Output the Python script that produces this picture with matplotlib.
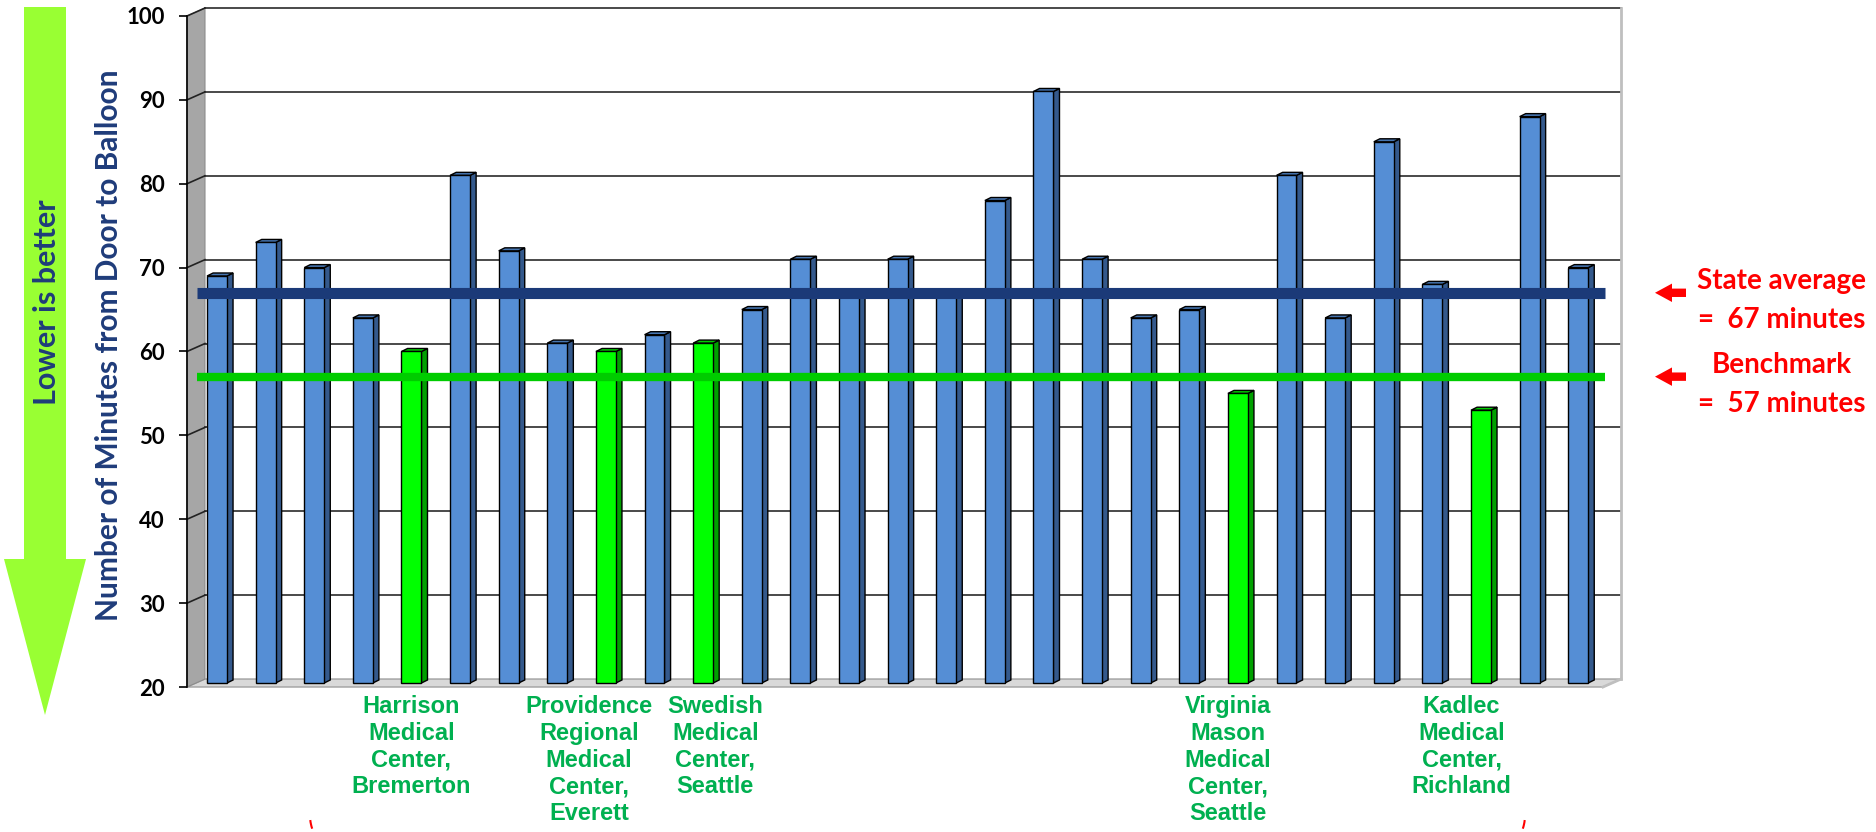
import matplotlib.pyplot as plt
from matplotlib.patches import Polygon, Arc
from matplotlib.transforms import blended_transform_factory
import numpy as np

# door-to-balloon minutes per hospital
minutes = [69, 73, 70, 64, 60, 81, 72, 61, 60, 62, 61, 65, 71, 67, 71,
           67, 78, 91, 71, 64, 65, 55, 81, 64, 85, 68, 53, 88, 70]
highlight = [4, 8, 10, 21, 26]
hosp_names = ["Harrison\nMedical\nCenter,\nBremerton",
              "Providence\nRegional\nMedical\nCenter,\nEverett",
              "Swedish\nMedical\nCenter,\nSeattle",
              "Virginia\nMason\nMedical\nCenter,\nSeattle",
              "Kadlec\nMedical\nCenter,\nRichland"]
name_shift = [0.0, -0.35, 0.25, -0.2, -0.4]
state_avg = 67
benchmark = 57
yticks = [20, 30, 40, 50, 60, 70, 80, 90, 100]

W, H = 1876, 832
fig = plt.figure(figsize=(W / 100, H / 100), dpi=100)
ax = fig.add_axes([187 / W, 1 - 687 / H, (1603 - 187) / W, (687 - 16) / H])

n = len(minutes)
x = np.arange(n)
x0, x1 = -0.617, n - 1 + 0.51
y0, y1 = 20, 100
ax.set_xlim(x0, x1)
ax.set_ylim(y0, y1)

# 3d box: depth offset of back wall in data units
dxw, dyw = 0.37, 0.95

ax.add_patch(Polygon([(x0, y0), (x1, y0), (x1 + dxw, y0 + dyw), (x0 + dxw, y0 + dyw)],
                     closed=True, fc='#D9D9D9', ec='#A0A0A0', lw=1, clip_on=False, zorder=1))
ax.add_patch(Polygon([(x0, y0), (x0, y1), (x0 + dxw, y1 + dyw), (x0 + dxw, y0 + dyw)],
                     closed=True, fc='#A6A6A6', ec='#8C8C8C', lw=0.8, clip_on=False, zorder=1))
for v in yticks[1:]:
    ax.plot([x0 + dxw, x1 + dxw], [v + dyw, v + dyw], color='#3A3A3A', lw=1.3,
            clip_on=False, zorder=1.5)
    ax.plot([x0, x0 + dxw], [v, v + dyw], color='#222222', lw=1.2, clip_on=False, zorder=1.5)
ax.plot([x1 + dxw, x1 + dxw], [y0 + dyw, y1 + dyw], color='#BFBFBF', lw=2, clip_on=False, zorder=1.5)
ax.plot([x1, x1 + dxw], [y0, y0 + dyw], color='#BFBFBF', lw=2, clip_on=False, zorder=1.5)

# bars with side face and top cap
bw = 0.41
sd, sdy = 0.125, 0.36
base = y0 + dyw / 2
cols = ['#00FF00' if i in highlight else '#558ED5' for i in range(n)]
side_cols = ['#00A000' if i in highlight else '#34598C' for i in range(n)]
top_cols = ['#00CC00' if i in highlight else '#4675B0' for i in range(n)]
ax.bar(x, [m - base for m in minutes], bottom=base, width=bw, color=cols,
       edgecolor='black', linewidth=1, zorder=3)
for i, m in enumerate(minutes):
    r = x[i] + bw / 2
    l = x[i] - bw / 2
    ax.add_patch(Polygon([(r, base), (r, m), (r + sd, m + sdy), (r + sd, base + sdy)],
                         closed=True, fc=side_cols[i], ec='black', lw=1, zorder=2.9))
    ax.add_patch(Polygon([(l, m), (r, m), (r + sd, m + sdy), (l + sd, m + sdy)],
                         closed=True, fc=top_cols[i], ec='black', lw=1, zorder=2.9))

# reference lines
ax.plot([x0 + 0.2, x1 + 0.04], [state_avg, state_avg], color='#1B3A78', lw=8,
        solid_capstyle='butt', clip_on=False, zorder=4)
ax.plot([x0 + 0.2, x1 + 0.04], [benchmark, benchmark], color='#00CC00', lw=6,
        solid_capstyle='butt', clip_on=False, zorder=4)

# axis styling
for s in ['top', 'right', 'bottom']:
    ax.spines[s].set_visible(False)
ax.spines['left'].set_color('black')
ax.spines['left'].set_linewidth(1.2)
ax.set_xticks([])
ax.set_yticks(yticks)
ax.tick_params(axis='y', length=6, width=1.2, pad=10, labelsize=16)
for t in ax.get_yticklabels():
    t.set_fontfamily('Lato')
    t.set_fontweight('bold')
ax.set_ylabel('Number of Minutes from Door to Balloon', fontsize=21.5, family='Lato',
              fontweight='bold', color='#1F3C7A')
ax.yaxis.set_label_coords(-0.045, 0.51)

# hospital names under highlighted bars
for k, i in enumerate(highlight):
    ax.text(x[i] + name_shift[k], y0 - 1.0, hosp_names[k], ha='center', va='top',
            fontsize=17, family='Liberation Sans', fontweight='bold', color='#00B050',
            linespacing=1.2, clip_on=False)

# big green arrow on the left
arrow = Polygon([(24 / W, 1 - 7 / H), (66 / W, 1 - 7 / H), (66 / W, 1 - 559 / H),
                 (86 / W, 1 - 559 / H), (45 / W, 1 - 715 / H), (4 / W, 1 - 559 / H),
                 (24 / W, 1 - 559 / H)], closed=True, fc='#99FF33', ec='none',
                transform=fig.transFigure)
fig.add_artist(arrow)
fig.text(47 / W, 1 - 302 / H, 'Lower is better', rotation=90, ha='center', va='center',
         fontsize=22, family='Lato', fontweight='bold', color='#1F3C7A')

# red annotations on the right
bt = blended_transform_factory(fig.transFigure, ax.transData)
for yy, l1, l2 in [(state_avg, 'State average', '=  67 minutes'),
                   (benchmark, 'Benchmark', '=  57 minutes')]:
    ax0, ah, ax2 = 1655 / W, 1672 / W, 1686 / W
    fig.add_artist(Polygon([(ax0, yy), (ah, yy + 1.1), (ah, yy + 0.5), (ax2, yy + 0.5),
                            (ax2, yy - 0.5), (ah, yy - 0.5), (ah, yy - 1.1)],
                           closed=True, fc='red', ec='none', transform=bt))
    ax.text(x1 + 3.68, yy + 1.35, l1, ha='center', va='center', fontsize=20,
            family='Lato', fontweight='bold', color='red', clip_on=False)
    ax.text(x1 + 3.68, yy - 3.2, l2, ha='center', va='center', fontsize=20,
            family='Lato', fontweight='bold', color='red', clip_on=False)

# bits of a red bracket cut off at the bottom edge
fig.add_artist(Arc((330 / W, 1 - 815 / H), 40 / W, 60 / H, theta1=210, theta2=240,
                   color='red', lw=1.5, transform=fig.transFigure))
fig.add_artist(Arc((1505 / W, 1 - 815 / H), 40 / W, 60 / H, theta1=300, theta2=330,
                   color='red', lw=1.5, transform=fig.transFigure))

fig.savefig('out.png', dpi=100)
